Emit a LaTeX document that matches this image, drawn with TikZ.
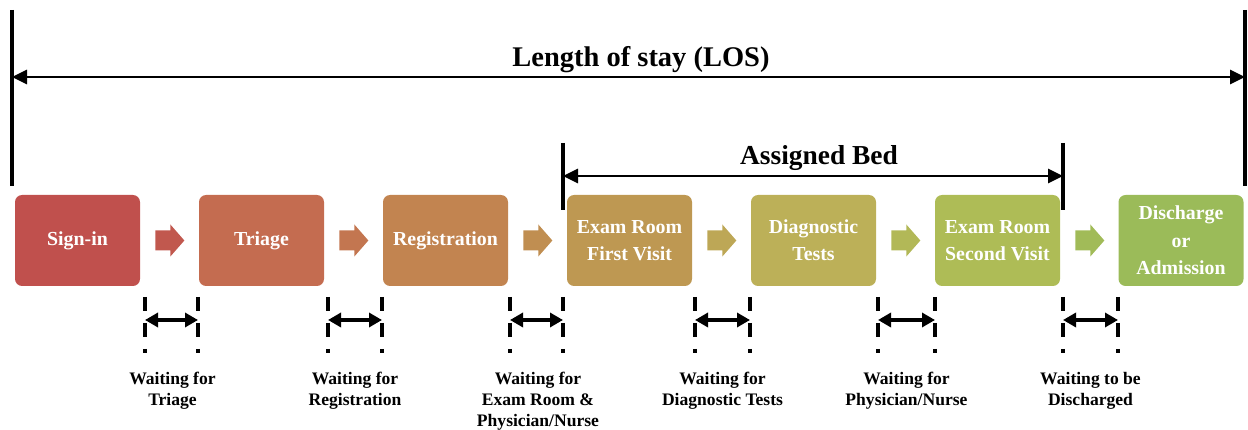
\documentclass[tikz,border=0pt]{standalone}
\usepackage{fontspec}
\setmainfont{Liberation Serif}
\definecolor{signred}{RGB}{192, 80, 77}
\definecolor{triageorange}{RGB}{196, 108, 80}
\definecolor{regbrown}{RGB}{194, 132, 80}
\definecolor{examtan}{RGB}{190, 152, 82}
\definecolor{diagolive}{RGB}{188, 176, 88}
\definecolor{examlime}{RGB}{174, 188, 86}
\definecolor{dischgreen}{RGB}{155, 187, 89}
\usetikzlibrary{arrows.meta, calc, positioning}

\newcommand{\flowarrow}[2]{%
  \fill[#2] ($(#1.east)+(0.3,0.2)$) -- ++(0.3,0) -- ++(0,0.12) -- ++(0.28,-0.32)
    -- ++(-0.28,-0.32) -- ++(0,0.12) -- ++(-0.3,0) -- cycle;}

\begin{document}
\begin{tikzpicture}[
  stepbox/.style={rounded corners=4pt, minimum width=2.5cm, minimum height=1.82cm, align=center, inner sep=2pt, text=white, font=\fontsize{11.3}{15.6}\selectfont\bfseries},
  bar/.style={line width=2.2pt},
  span/.style={line width=1.7pt, {Triangle[length=0.3cm, width=0.28cm]}-{Triangle[length=0.3cm, width=0.28cm]}},
  waitbar/.style={line width=1.8pt, dash pattern=on 0.28cm off 0.24cm},
  waitarrow/.style={line width=2pt, {Triangle[length=0.26cm, width=0.28cm]}-{Triangle[length=0.26cm, width=0.28cm]}},
  waitlabel/.style={anchor=north, align=center, inner sep=0pt, font=\fontsize{10}{11.9}\selectfont\bfseries}
]
  \useasboundingbox (0,0) rectangle (24.96,8.6);

  \node[stepbox, fill=signred] (signin) at (1.55, 3.79) {Sign-in};
  \node[stepbox, fill=triageorange] (triage) at (5.23, 3.79) {Triage};
  \node[stepbox, fill=regbrown] (registration) at (8.91, 3.79) {Registration};
  \node[stepbox, fill=examtan] (examfirst) at (12.59, 3.79) {Exam Room\\First Visit};
  \node[stepbox, fill=diagolive] (diagnostic) at (16.27, 3.79) {Diagnostic\\Tests};
  \node[stepbox, fill=examlime] (examsecond) at (19.95, 3.79) {Exam Room\\Second Visit};
  \node[stepbox, fill=dischgreen] (discharge) at (23.62, 3.79) {Discharge\\or\\Admission};

  \flowarrow{signin}{signred!70!triageorange}
  \flowarrow{triage}{triageorange!60!regbrown}
  \flowarrow{registration}{regbrown!50!examtan}
  \flowarrow{examfirst}{examtan!40!diagolive}
  \flowarrow{diagnostic}{diagolive!30!examlime}
  \flowarrow{examsecond}{examlime!30!dischgreen}

  \coordinate (losL) at (0.24, 7.06);
  \coordinate (losR) at (24.9, 7.06);
  \draw[bar] (0.24, 8.4) -- (0.24, 4.88);
  \draw[bar] (24.9, 8.4) -- (24.9, 4.88);
  \draw[span] (losL) -- (losR);
  \node[font=\fontsize{16.2}{19}\selectfont\bfseries] (los) at (12.82, 7.4) {Length of stay (LOS)};

  \coordinate (bedL) at (11.26, 5.08);
  \coordinate (bedR) at (21.26, 5.08);
  \draw[bar] (11.26, 5.74) -- (11.26, 4.4);
  \draw[bar] (21.26, 5.74) -- (21.26, 4.4);
  \draw[span] (bedL) -- (bedR);
  \node[font=\fontsize{15.6}{18}\selectfont\bfseries] (bed) at (16.38, 5.44) {Assigned Bed};

  \draw[waitbar] (2.90, 2.66) -- (2.90, 1.54);
  \draw[waitbar] (3.96, 2.66) -- (3.96, 1.54);
  \draw[waitbar] (6.56, 2.66) -- (6.56, 1.54);
  \draw[waitbar] (7.64, 2.66) -- (7.64, 1.54);
  \draw[waitbar] (10.20, 2.66) -- (10.20, 1.54);
  \draw[waitbar] (11.26, 2.66) -- (11.26, 1.54);
  \draw[waitbar] (13.90, 2.66) -- (13.90, 1.54);
  \draw[waitbar] (15.00, 2.66) -- (15.00, 1.54);
  \draw[waitbar] (17.56, 2.66) -- (17.56, 1.54);
  \draw[waitbar] (18.70, 2.66) -- (18.70, 1.54);
  \draw[waitbar] (21.26, 2.66) -- (21.26, 1.54);
  \draw[waitbar] (22.36, 2.66) -- (22.36, 1.54);

  \coordinate (w1a) at (2.90, 2.2);  \coordinate (w1b) at (3.96, 2.2);
  \coordinate (w2a) at (6.56, 2.2);  \coordinate (w2b) at (7.64, 2.2);
  \coordinate (w3a) at (10.20, 2.2); \coordinate (w3b) at (11.26, 2.2);
  \coordinate (w4a) at (13.90, 2.2); \coordinate (w4b) at (15.00, 2.2);
  \coordinate (w5a) at (17.56, 2.2); \coordinate (w5b) at (18.70, 2.2);
  \coordinate (w6a) at (21.26, 2.2); \coordinate (w6b) at (22.36, 2.2);
  \draw[waitarrow] (w1a) -- (w1b);
  \draw[waitarrow] (w2a) -- (w2b);
  \draw[waitarrow] (w3a) -- (w3b);
  \draw[waitarrow] (w4a) -- (w4b);
  \draw[waitarrow] (w5a) -- (w5b);
  \draw[waitarrow] (w6a) -- (w6b);

  \node[waitlabel] (wtriage) at (3.45, 1.16) {Waiting for\\Triage};
  \node[waitlabel] (wreg) at (7.10, 1.16) {Waiting for\\Registration};
  \node[waitlabel] (wexam) at (10.76, 1.16) {Waiting for\\Exam Room \&\\Physician/Nurse};
  \node[waitlabel] (wdiag) at (14.45, 1.16) {Waiting for\\Diagnostic Tests};
  \node[waitlabel] (wphys) at (18.13, 1.16) {Waiting for\\Physician/Nurse};
  \node[waitlabel] (wdisch) at (21.81, 1.16) {Waiting to be\\Discharged};
\end{tikzpicture}
\end{document}
